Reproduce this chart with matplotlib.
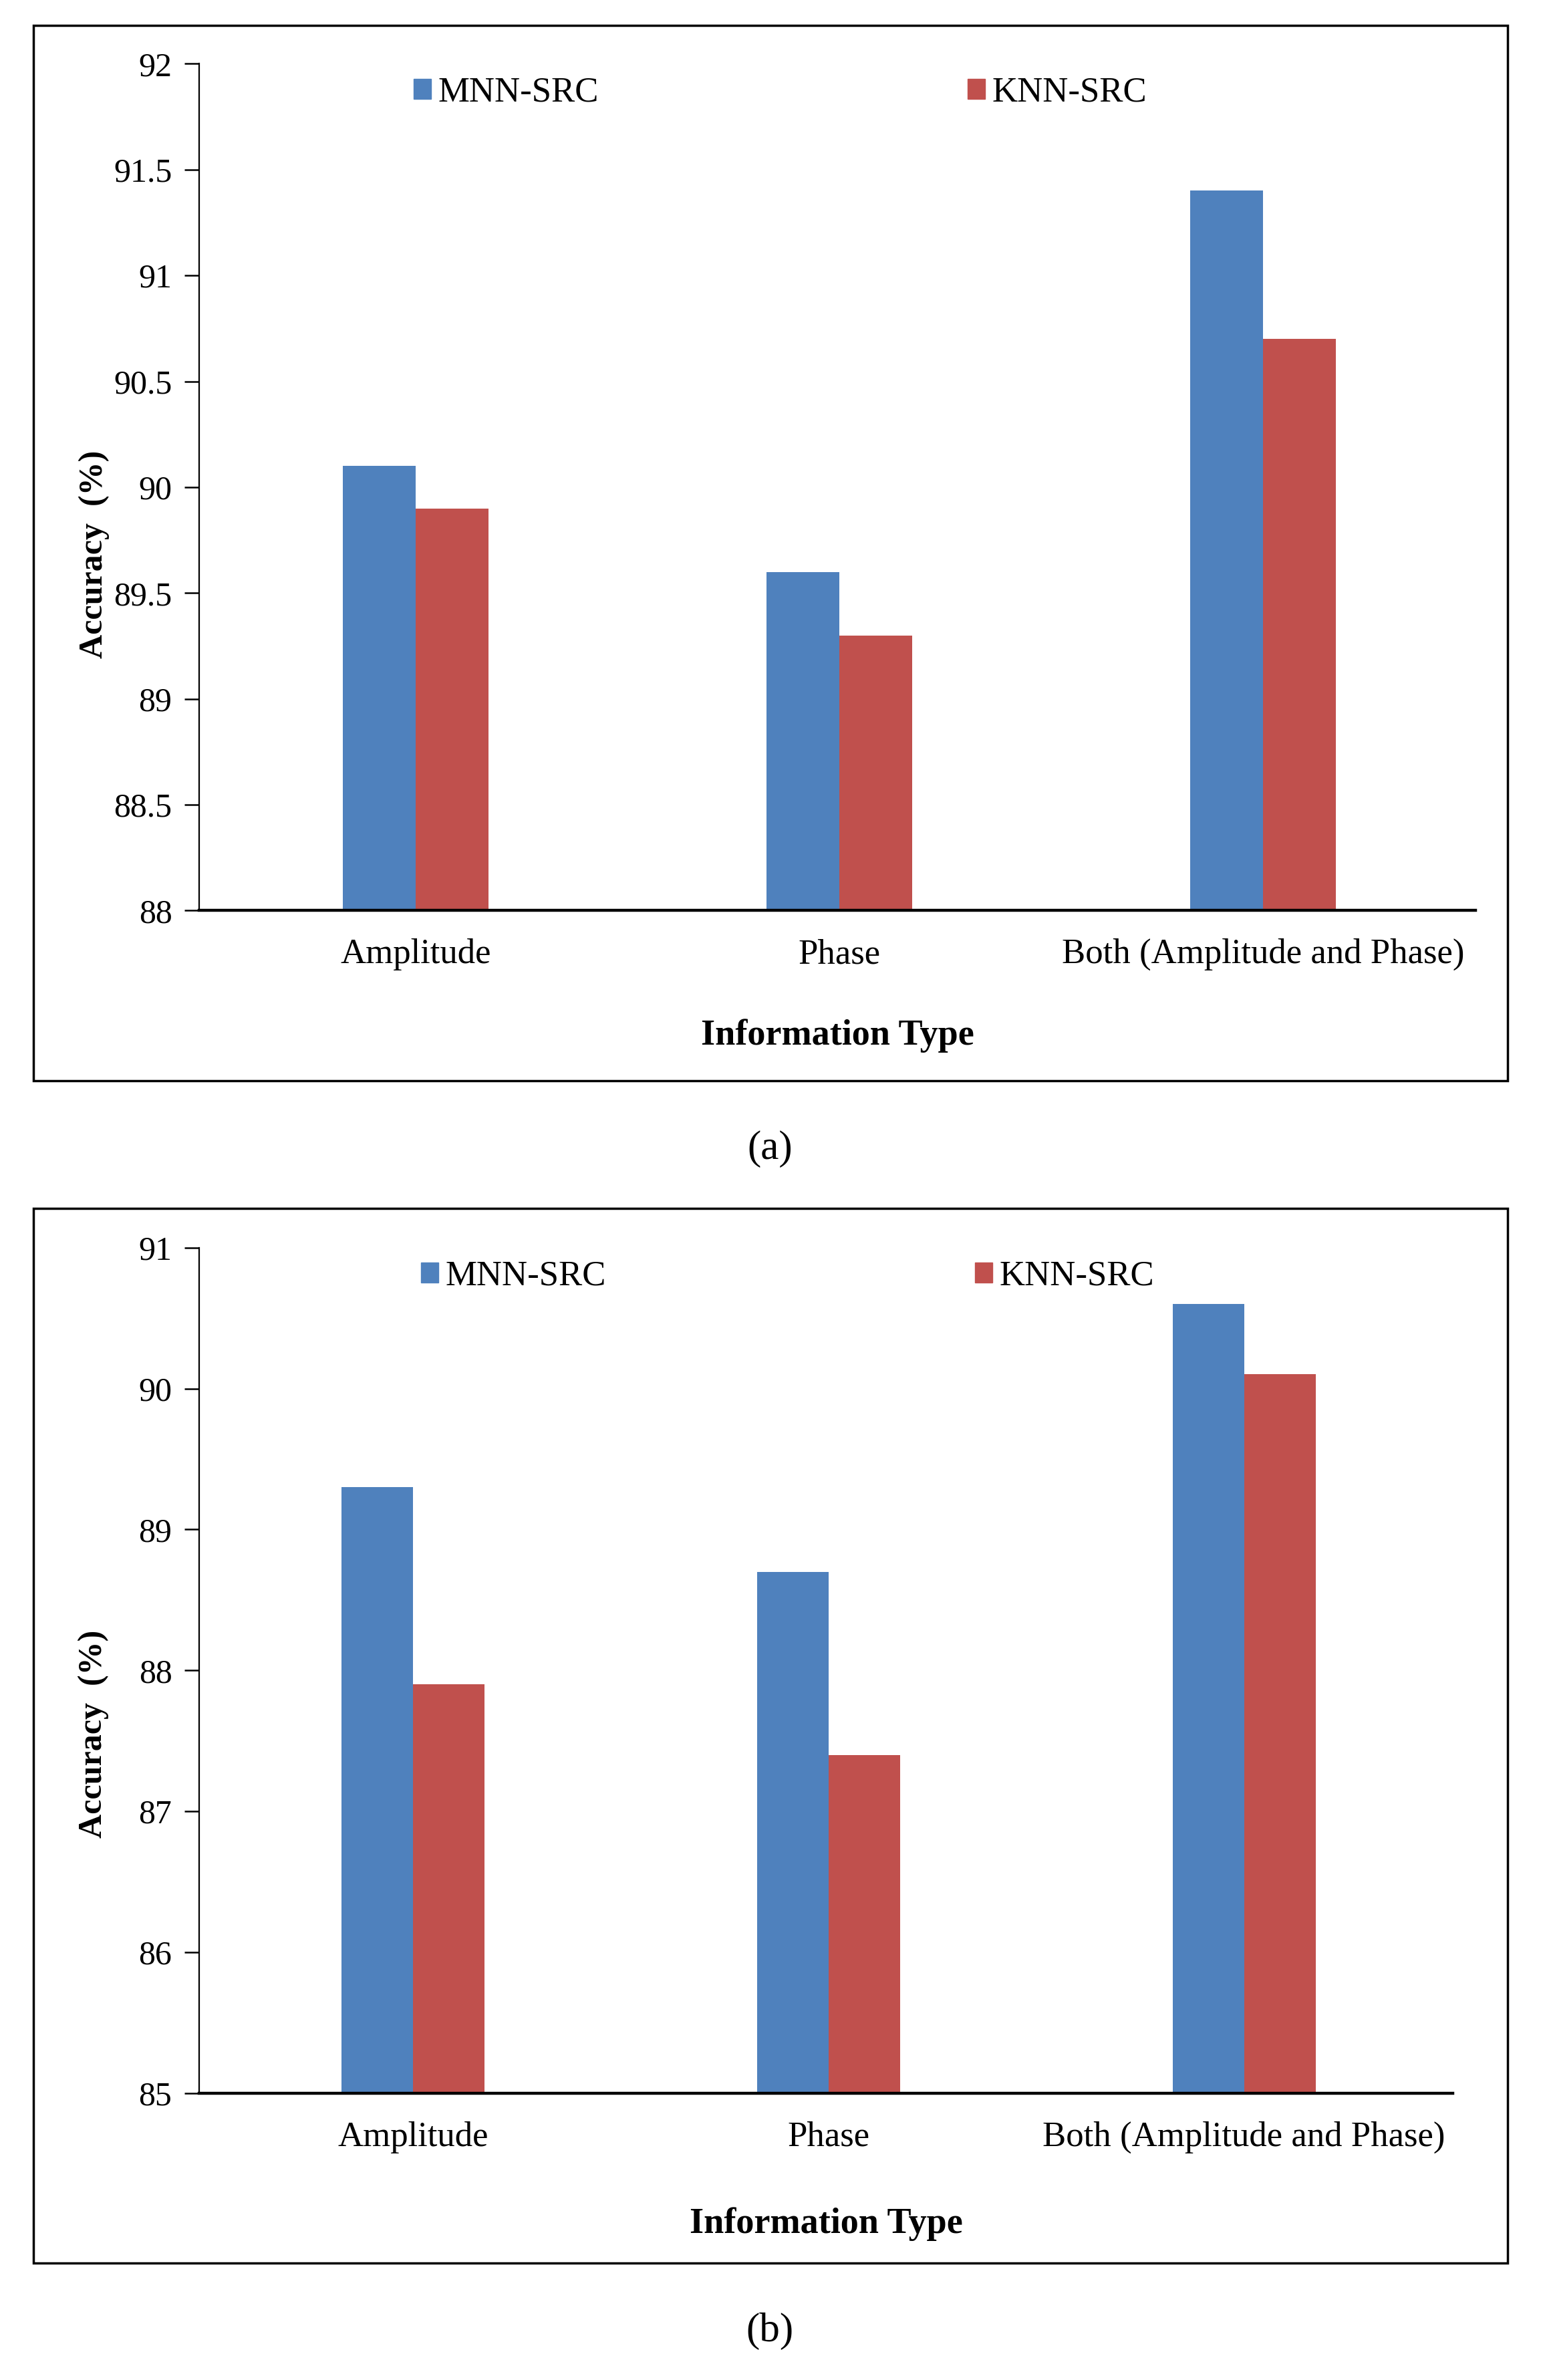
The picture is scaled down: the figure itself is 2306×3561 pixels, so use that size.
import numpy as np
import matplotlib
matplotlib.use("Agg")
import matplotlib.pyplot as plt
from matplotlib.patches import Rectangle, Patch

categories = ["Amplitude", "Phase", "Both (Amplitude and Phase)"]
series_names = ["MNN-SRC", "KNN-SRC"]

# panel (a)
mnn_a = [90.1, 89.6, 91.4]
knn_a = [89.9, 89.3, 90.7]
yticks_a = [88, 88.5, 89, 89.5, 90, 90.5, 91, 91.5, 92]

# panel (b)
mnn_b = [89.3, 88.7, 90.6]
knn_b = [87.9, 87.4, 90.1]
yticks_b = [85, 86, 87, 88, 89, 90, 91]

blue = "#4F81BD"
red = "#C0504D"

plt.rcParams["font.family"] = ["Liberation Serif", "DejaVu Serif"]

fig = plt.figure(figsize=(23.06, 35.61), dpi=100)


def draw_panel(rect, box, mnn, knn, yticks, xlim, leg_x, ylab_xy, xlab_y, caption, cap_y):
    # outer frame of the panel
    fig.patches.append(Rectangle((box[0], box[1]), box[2], box[3], transform=fig.transFigure,
                                 fill=False, edgecolor="black", linewidth=2.5))
    ax = fig.add_axes(rect)
    x = np.arange(len(categories))
    w = 0.172
    ax.bar(x - w / 2, mnn, w, color=blue, label=series_names[0])
    ax.bar(x + w / 2, knn, w, color=red, label=series_names[1])
    ax.set_xlim(*xlim)
    ax.set_ylim(yticks[0], yticks[-1])
    ax.set_yticks(yticks)
    ax.set_yticklabels([f"{t:g}" for t in yticks])
    ax.set_xticks(x)
    ax.set_xticklabels(categories)
    ax.tick_params(axis="y", direction="out", length=16, width=1.8, pad=13, labelsize=36)
    ax.tick_params(axis="x", length=0, pad=30, labelsize=38)
    ax.spines["top"].set_visible(False)
    ax.spines["right"].set_visible(False)
    ax.spines["left"].set_linewidth(1.6)
    ax.spines["bottom"].set_linewidth(3.2)
    ax.set_xlabel("Information Type", fontsize=39, fontweight="bold")
    ax.xaxis.set_label_coords(0.5, xlab_y)
    ax.set_ylabel("Accuracy  (%)", fontsize=36, fontweight="bold")
    ax.yaxis.set_label_coords(ylab_xy[0], ylab_xy[1])
    handles = [Patch(color=blue), Patch(color=red)]
    ax.legend(handles, series_names, loc="upper left", bbox_to_anchor=(leg_x, 0.985), ncol=2,
              frameon=False, fontsize=38, handlelength=0.5, handleheight=0.5,
              handletextpad=0.2, columnspacing=10.45, borderaxespad=0, borderpad=0)
    fig.text(0.4995, cap_y, caption, ha="center", va="center", fontsize=44)
    return ax


draw_panel([0.1291, 0.6174, 0.8285, 0.3558], (0.0217, 0.5459, 0.9566, 0.4433),
           mnn_a, knn_a, yticks_a, (-0.512, 2.502), 0.168, (-0.070, 0.421), -0.128,
           "(a)", 0.5173)
draw_panel([0.1291, 0.1205, 0.8138, 0.3553], (0.0217, 0.0491, 0.9566, 0.4432),
           mnn_b, knn_b, yticks_b, (-0.515, 2.503), 0.177, (-0.072, 0.425), -0.135,
           "(b)", 0.0205)

fig.savefig("out.png", dpi=100)
